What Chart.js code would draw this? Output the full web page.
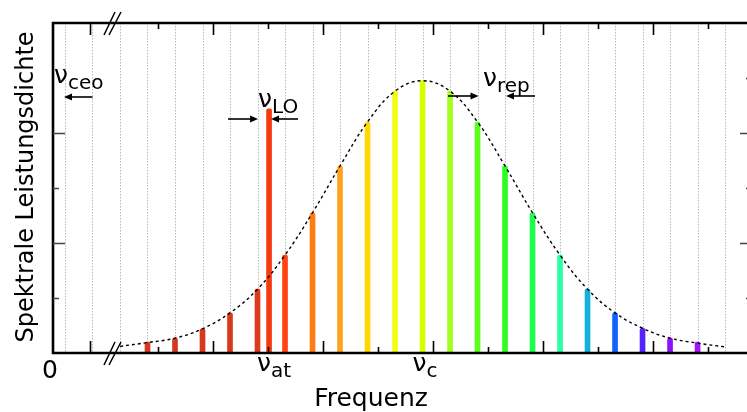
<!DOCTYPE html>
<html>
<head>
<meta charset="utf-8">
<script src="https://cdn.jsdelivr.net/npm/chart.js@4.4.1/dist/chart.umd.min.js"></script>
<style>
  html, body { margin: 0; padding: 0; background: #fff; overflow: hidden; width: 747px; height: 412px; }
  canvas { display: block; }
</style>
</head>
<body>
<canvas id="chart" width="760" height="412"></canvas>
<script>
// comb lines (index of the mode) and their spectral power
const combIndex = [3, 4, 5, 6, 7, 8, 9, 10, 11, 12, 13, 14, 15, 16, 17, 18, 19, 20, 21, 22, 23]
const combPower = [0.20, 0.27, 0.44, 0.73, 1.16, 1.78, 2.55, 3.40, 4.20, 4.76, 4.95, 4.76, 4.20, 3.40, 2.55, 1.78, 1.16, 0.73, 0.45, 0.27, 0.20]
const combColors = [
  "#d4391f", "#d4391f", "#d6391e", "#d8391d", "#dc3a1b", "#ff4312", "#ff7c12",
  "#ffa21e", "#ffd800", "#eeff12", "#d6ff00", "#a2ff1e", "#5cff1c", "#2cff1e",
  "#1cff4c", "#2affa8", "#12b2d8", "#1262ff", "#5222ff", "#8a12ff", "#a212ff"
]

// local oscillator line
const loIndex = [7.42]
const loPower = [4.44]
const loColor = "#f53a12"

// gaussian envelope (dashed)
const envelopeIndex = [2, 3, 4, 5, 6, 7, 8, 9, 10, 11, 12, 13, 14, 15, 16, 17, 18, 19, 20, 21, 22, 23, 24]
const envelopePower = [0.12, 0.19, 0.27, 0.44, 0.73, 1.16, 1.78, 2.55, 3.40, 4.20, 4.76, 4.95, 4.76, 4.20, 3.40, 2.55, 1.78, 1.16, 0.73, 0.45, 0.27, 0.18, 0.11]

// dotted grid lines, one per mode
const gridIndex = [0, 1, 2, 3, 4, 5, 6, 7, 8, 9, 10, 11, 12, 13, 14, 15, 16, 17, 18, 19, 20, 21, 22, 23, 24]

// tick marks
const xMajorTicks = [0.91, 5.38, 9.38, 13.38, 17.38, 21.38]
const xMinorTicks = [3.38, 7.38, 11.38, 15.38, 19.38, 23.38]
const yMajorTicks = [2, 4]
const yMinorTicks = [1, 3, 5]

const FONT = '"DejaVu Sans", Verdana, sans-serif'

function drawNu(ctx, x, y, sub, size, subSize) {
  ctx.font = size + "px " + FONT
  ctx.textAlign = "left"
  ctx.textBaseline = "alphabetic"
  ctx.fillText("\u03bd", x, y)
  const w = ctx.measureText("\u03bd").width
  ctx.font = subSize + "px " + FONT
  ctx.fillText(sub, x + w, y + 6)
}

function arrow(ctx, x1, x2, y) {
  const dir = x2 > x1 ? 1 : -1
  ctx.beginPath()
  ctx.moveTo(x1, y)
  ctx.lineTo(x2 - dir * 6, y)
  ctx.lineWidth = 1.6
  ctx.strokeStyle = "#000"
  ctx.stroke()
  ctx.beginPath()
  ctx.moveTo(x2, y)
  ctx.lineTo(x2 - dir * 8, y - 3.5)
  ctx.lineTo(x2 - dir * 8, y + 3.5)
  ctx.closePath()
  ctx.fillStyle = "#000"
  ctx.fill()
}

const decorations = {
  id: "decorations",
  beforeDatasetsDraw(chart) {
    const { ctx, chartArea, scales } = chart
    ctx.save()
    ctx.strokeStyle = "#b8b8b8"
    ctx.lineWidth = 1
    ctx.setLineDash([1.5, 1.5])
    gridIndex.forEach(k => {
      const x = Math.round(scales.x.getPixelForValue(k)) + 0.5
      ctx.beginPath()
      ctx.moveTo(x, chartArea.top)
      ctx.lineTo(x, chartArea.bottom)
      ctx.stroke()
    })
    ctx.restore()
  },
  afterDraw(chart) {
    const { ctx, chartArea, scales } = chart
    const { left, right, top, bottom } = chartArea
    ctx.save()

    // frame
    ctx.strokeStyle = "#000"
    ctx.lineWidth = 2.6
    ctx.beginPath()
    ctx.moveTo(right, top)
    ctx.lineTo(left, top)
    ctx.lineTo(left, bottom)
    ctx.lineTo(right, bottom)
    ctx.lineTo(right, top)
    ctx.stroke()

    // x ticks, inward, top and bottom
    ctx.lineWidth = 1.6
    const xTick = (k, len) => {
      const x = Math.round(scales.x.getPixelForValue(k)) + 0.5
      ctx.beginPath()
      ctx.moveTo(x, top)
      ctx.lineTo(x, top + len)
      ctx.moveTo(x, bottom)
      ctx.lineTo(x, bottom - len)
      ctx.stroke()
    }
    xMajorTicks.forEach(k => xTick(k, 12))
    xMinorTicks.forEach(k => xTick(k, 6))

    // y ticks, inward, left and right
    ctx.strokeStyle = "#444"
    const yTick = (v, len, leftSide) => {
      const y = Math.round(scales.y.getPixelForValue(v)) + 0.5
      ctx.beginPath()
      if (leftSide) {
        ctx.moveTo(left, y)
        ctx.lineTo(left + len, y)
      }
      ctx.moveTo(right, y)
      ctx.lineTo(right - len, y)
      ctx.stroke()
    }
    yMajorTicks.forEach(v => yTick(v, 12, true))
    yMinorTicks.forEach(v => yTick(v, 6, v < 5))

    // axis break marks
    ctx.strokeStyle = "#000"
    ctx.lineWidth = 1.5
    ;[top, bottom].forEach(y => {
      ctx.beginPath()
      ctx.moveTo(104, y + 12)
      ctx.lineTo(115, y - 11)
      ctx.moveTo(109, y + 12)
      ctx.lineTo(121, y - 11)
      ctx.stroke()
    })

    // axis labels
    ctx.fillStyle = "#000"
    ctx.font = "25px " + FONT
    ctx.textAlign = "center"
    ctx.textBaseline = "alphabetic"
    ctx.fillText("0", left - 3, 378)
    ctx.fillText("Frequenz", 371, 406)

    ctx.save()
    ctx.translate(33, 187)
    ctx.rotate(-Math.PI / 2)
    ctx.font = "24px " + FONT
    ctx.textAlign = "center"
    ctx.fillText("Spektrale Leistungsdichte", 0, 0)
    ctx.restore()

    const xLO = scales.x.getPixelForValue(loIndex[0])
    const xC = scales.x.getPixelForValue(13)
    drawNu(ctx, xLO - 12, 371, "at", 25, 20)
    drawNu(ctx, xC - 10, 371, "c", 25, 20)

    // annotations
    drawNu(ctx, 54, 83, "ceo", 25, 20)
    arrow(ctx, scales.x.getPixelForValue(1), scales.x.getPixelForValue(0) - 1, 97)

    drawNu(ctx, xLO - 11, 107, "LO", 25, 20)
    arrow(ctx, 228, xLO - 11, 119)
    arrow(ctx, 298, xLO + 2, 119)

    drawNu(ctx, 483, 86, "rep", 25, 20)
    arrow(ctx, 448, scales.x.getPixelForValue(15) + 1, 96)
    arrow(ctx, 535, scales.x.getPixelForValue(16) + 1, 96)

    ctx.restore()
  }
}

const combData = combIndex.map((k, i) => ({ x: k, y: combPower[i] }))
const loData = loIndex.map((k, i) => ({ x: k, y: loPower[i] }))
const envelopeData = envelopeIndex.map((k, i) => ({ x: k, y: envelopePower[i] }))

new Chart(document.getElementById("chart"), {
  type: "bar",
  data: {
    datasets: [
      {
        type: "line",
        data: envelopeData,
        borderColor: "#000",
        borderWidth: 1.4,
        borderDash: [3, 3],
        pointRadius: 0,
        tension: 0.4,
        fill: false,
        order: 0
      },
      {
        type: "bar",
        data: combData,
        backgroundColor: combColors,
        barThickness: 5,
        grouped: false,
        borderRadius: { topLeft: 2, topRight: 2 },
        borderSkipped: "bottom",
        order: 1
      },
      {
        type: "bar",
        data: loData,
        backgroundColor: loColor,
        barThickness: 5,
        grouped: false,
        borderRadius: { topLeft: 2, topRight: 2 },
        borderSkipped: "bottom",
        order: 1
      }
    ]
  },
  options: {
    responsive: false,
    animation: false,
    layout: { padding: { left: 53, top: 23, right: 8, bottom: 59 } },
    scales: {
      x: { type: "linear", display: false, offset: false, min: -0.436, max: 24.98 },
      y: { display: false, min: 0, max: 6 }
    },
    plugins: {
      legend: { display: false },
      tooltip: { enabled: false }
    }
  },
  plugins: [decorations]
})
</script>
</body>
</html>
